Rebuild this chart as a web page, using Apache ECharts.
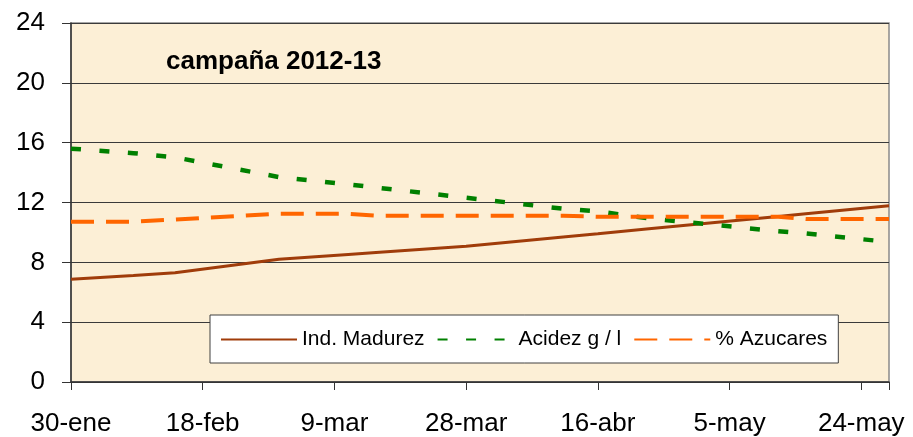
<!DOCTYPE html>
<html>
<head>
<meta charset="utf-8">
<script src="https://cdn.jsdelivr.net/npm/echarts@6/dist/echarts.min.js"></script>
<style>
html,body{margin:0;padding:0;background:#fff;}
#chart{width:913px;height:437px;}
</style>
</head>
<body>
<div id="chart"></div>
<script>
// ---- data ----
const titleText = 'campaña 2012-13';
const sampleDates = ['2013-01-30','2013-02-08','2013-02-14','2013-03-01','2013-03-11','2013-03-15','2013-03-28','2013-04-11','2013-04-16','2013-04-23','2013-05-12','2013-05-16','2013-05-28'];
const indMadurez = [6.87, 7.12, 7.30, 8.20, 8.53, 8.66, 9.07, 9.69, 9.91, 10.23, 11.07, 11.25, 11.78];
const acidez     = [15.6, 15.3, 15.02, 13.7, 13.21, 13.0, 12.32, 11.58, 11.41, 10.96, 10.08, 9.93, 9.36];
const azucares   = [10.72, 10.72, 10.86, 11.25, 11.25, 11.12, 11.12, 11.12, 11.05, 11.05, 11.05, 10.9, 10.9];
const xTickLabels = ['30-ene','18-feb','9-mar','28-mar','16-abr','5-may','24-may'];
const xTickStepDays = 19;
const yTicks = [0, 4, 8, 12, 16, 20, 24];
const seriesNames = ['Ind. Madurez', 'Acidez g / l', '% Azucares'];

// ---- build ----
const DAY = 86400000;
const t0 = Date.parse(sampleDates[0]);
const days = sampleDates.map(d => Math.round((Date.parse(d) - t0) / DAY));
const pairs = vals => vals.map((v, i) => [days[i], v]);
const FONT = 'Arial, "Liberation Sans", sans-serif';

const chart = echarts.init(document.getElementById('chart'), null, {renderer: 'canvas'});
chart.setOption({
  animation: false,
  backgroundColor: '#ffffff',
  title: {
    text: titleText,
    left: 161, top: 44,
    textStyle: {fontFamily: FONT, fontSize: 26, fontWeight: 'bold', color: '#000'}
  },
  grid: {
    left: 71, top: 23, right: 24, bottom: 55,
    show: true, backgroundColor: '#FCEFD6', borderColor: '#8a8a8a', borderWidth: 1.5
  },
  legend: {
    left: 210, top: 315,
    padding: [14, 11, 13, 10],
    itemWidth: 76, itemHeight: 22, itemGap: 12,
    backgroundColor: '#ffffff', borderColor: '#404040', borderWidth: 1,
    itemStyle: {opacity: 0},
    textStyle: {fontFamily: FONT, fontSize: 21, color: '#000'},
    data: seriesNames
  },
  xAxis: {
    type: 'value',
    min: 0, max: days[days.length - 1], interval: xTickStepDays,
    axisLine: {show: true, lineStyle: {color: '#333', width: 1.5}},
    axisTick: {show: true, length: 8, lineStyle: {color: '#333', width: 1}},
    splitLine: {show: false},
    axisLabel: {
      fontFamily: FONT, fontSize: 26, color: '#000', margin: 29,
      showMaxLabel: true,
      formatter: v => (v % xTickStepDays === 0 ? (xTickLabels[v / xTickStepDays] || '') : '')
    }
  },
  yAxis: {
    type: 'value',
    min: yTicks[0], max: yTicks[yTicks.length - 1], interval: yTicks[1] - yTicks[0],
    axisLine: {show: true, lineStyle: {color: '#333', width: 1.5}},
    axisTick: {show: true, length: 9, lineStyle: {color: '#333', width: 1}},
    splitLine: {show: true, lineStyle: {color: '#3a3a3a', width: 1}},
    axisLabel: {fontFamily: FONT, fontSize: 26, color: '#000', margin: 26}
  },
  series: [
    {
      name: seriesNames[0], type: 'line', data: pairs(indMadurez),
      symbol: 'none', smooth: false,
      lineStyle: {color: '#A03C0A', width: 3},
      itemStyle: {color: '#A03C0A'}
    },
    {
      name: seriesNames[1], type: 'line', data: pairs(acidez),
      symbol: 'none', smooth: false,
      lineStyle: {color: '#008000', width: 4.5, type: [10, 18.5]},
      itemStyle: {color: '#008000'}
    },
    {
      name: seriesNames[2], type: 'line', data: pairs(azucares),
      symbol: 'none', smooth: false,
      lineStyle: {color: '#FF6600', width: 4, type: [23, 12]},
      itemStyle: {color: '#FF6600'}
    }
  ]
});
</script>
</body>
</html>
